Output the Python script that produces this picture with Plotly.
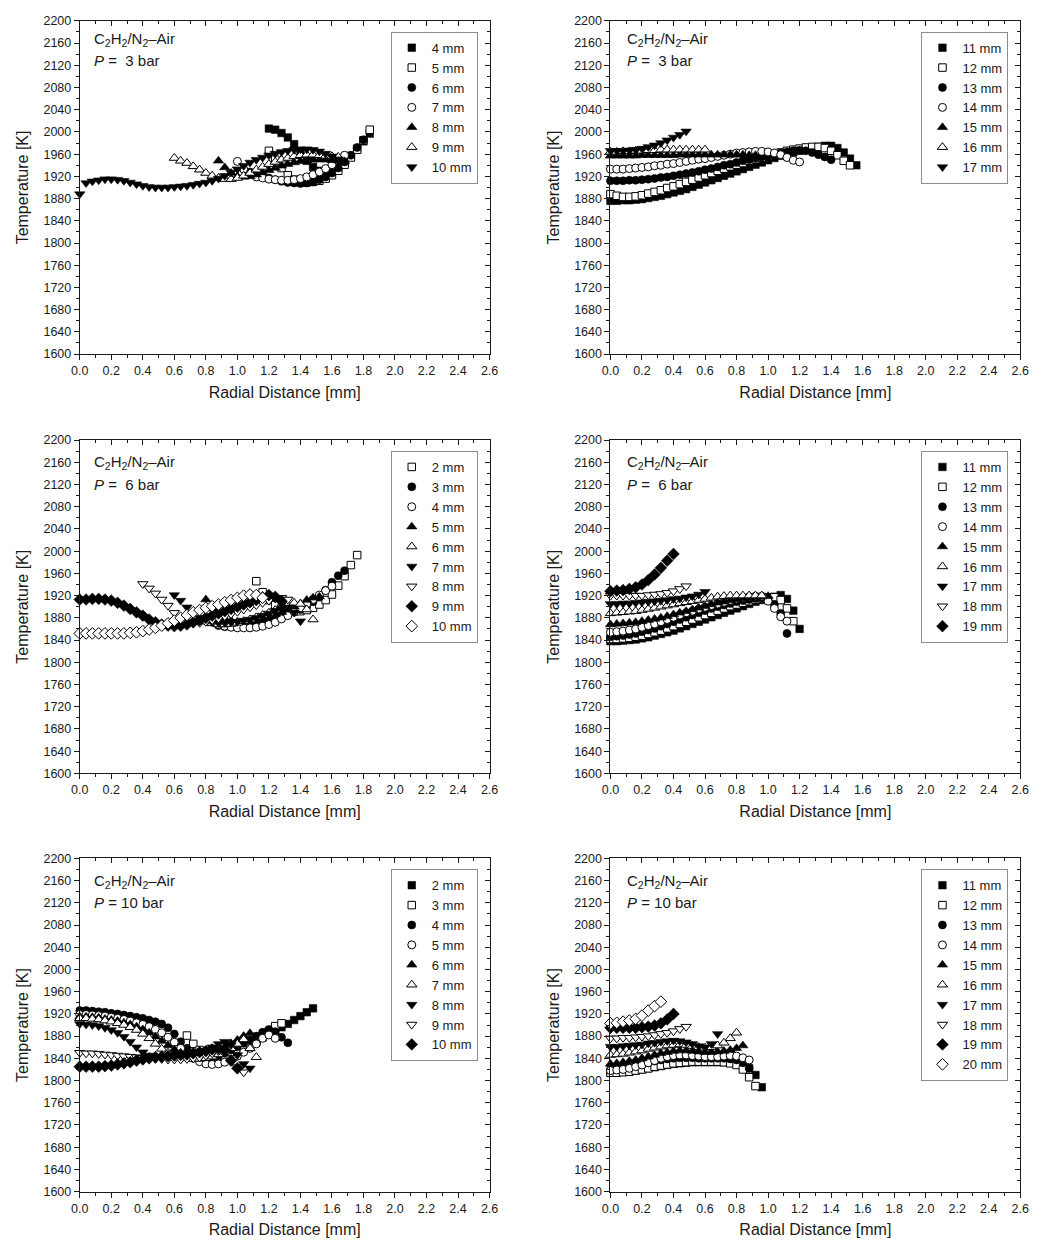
import plotly.graph_objects as go

FIG_W, FIG_H = 1044, 1254
RADIAL_STEP = 0.04  # radial traverse increment [mm]

# ---------------- P = 3 bar, heights 4-10 mm ----------------
p3a_labels = ["4 mm", "5 mm", "6 mm", "7 mm", "8 mm", "9 mm", "10 mm"]
p3a_r0 = [1.20, 1.20, 1.08, 1.00, 0.88, 0.60, 0.00]
p3a_t04 = [2006, 2004, 1998, 1990, 1978, 1962, 1948, 1937, 1930, 1927, 1928, 1934, 1944, 1957, 1970, 1983, 1997]
p3a_t05 = [1966, 1950, 1935, 1922, 1914, 1910, 1909, 1910, 1912, 1916, 1922, 1930, 1941, 1954, 1968, 1985, 2004]
p3a_t06 = [1928, 1924, 1920, 1917, 1914, 1911, 1909, 1908, 1907, 1908, 1910, 1914, 1919, 1926, 1935, 1946, 1958, 1972, 1986]
p3a_t07 = [1947, 1933, 1924, 1919, 1917, 1915, 1914, 1913, 1913, 1914, 1916, 1919, 1923, 1928, 1934, 1941, 1950, 1958]
p3a_t08 = [1948, 1936, 1926, 1920, 1919, 1920, 1923, 1927, 1931, 1935, 1939, 1942, 1945, 1947, 1949, 1950, 1950, 1950,
           1949, 1948, 1947]
p3a_t09 = [1953, 1948, 1944, 1938, 1932, 1926, 1921, 1917, 1915, 1915, 1917, 1921, 1926, 1932, 1937, 1942, 1946, 1950,
           1953, 1956, 1958, 1959, 1959, 1958, 1957, 1956, 1955]
p3a_t10 = [1888, 1908, 1911, 1913, 1915, 1915, 1914, 1912, 1909, 1906, 1903, 1901, 1900, 1900, 1900, 1901, 1902, 1903,
           1905, 1907, 1909, 1912, 1916, 1921, 1927, 1933, 1939, 1945, 1950, 1954, 1958, 1961, 1964, 1966, 1968, 1969,
           1969, 1968, 1965, 1961, 1956, 1951]

# ---------------- P = 3 bar, heights 11-17 mm ----------------
p3b_labels = ["11 mm", "12 mm", "13 mm", "14 mm", "15 mm", "16 mm", "17 mm"]
p3b_r0 = [0.0, 0.0, 0.0, 0.0, 0.0, 0.0, 0.0]
p3b_t11 = [1876, 1876, 1877, 1877, 1878, 1879, 1881, 1883, 1885, 1888, 1891, 1894, 1897, 1901, 1905, 1909, 1913, 1917,
           1921, 1925, 1929, 1933, 1937, 1941, 1945, 1949, 1953, 1957, 1960, 1963, 1966, 1969, 1971, 1973, 1975, 1975,
           1971, 1963, 1952, 1940]
p3b_t12 = [1888, 1885, 1883, 1883, 1884, 1886, 1889, 1892, 1895, 1899, 1902, 1906, 1910, 1914, 1918, 1922, 1926, 1930,
           1934, 1938, 1941, 1944, 1948, 1951, 1954, 1957, 1960, 1963, 1966, 1968, 1970, 1972, 1973, 1973, 1971, 1966,
           1958, 1948, 1940]
p3b_t13 = [1912, 1912, 1912, 1913, 1913, 1914, 1915, 1916, 1918, 1919, 1921, 1923, 1925, 1927, 1929, 1932, 1934, 1937,
           1940, 1942, 1945, 1948, 1950, 1953, 1955, 1958, 1960, 1962, 1964, 1966, 1967, 1966, 1963, 1959, 1955, 1950]
p3b_t14 = [1933, 1933, 1933, 1934, 1935, 1936, 1937, 1939, 1940, 1942, 1943, 1945, 1947, 1949, 1951, 1952, 1954, 1956,
           1958, 1960, 1962, 1963, 1964, 1965, 1965, 1964, 1962, 1959, 1954, 1949, 1946]
p3b_t15 = [1957, 1957, 1957, 1957, 1957, 1958, 1958, 1958, 1958, 1958, 1958, 1959, 1959, 1959, 1959, 1959, 1959, 1959,
           1959, 1959, 1959, 1959, 1958, 1958]
p3b_t16 = [1964, 1964, 1965, 1965, 1966, 1966, 1967, 1967, 1968, 1968, 1968, 1968, 1968, 1968, 1968, 1968]
p3b_t17 = [1966, 1966, 1966, 1967, 1968, 1970, 1973, 1976, 1980, 1985, 1990, 1995, 2001]

# ---------------- P = 6 bar, heights 2-10 mm ----------------
p6a_labels = ["2 mm", "3 mm", "4 mm", "5 mm", "6 mm", "7 mm", "8 mm", "9 mm", "10 mm"]
p6a_r0 = [1.12, 0.88, 0.88, 0.80, 0.76, 0.60, 0.40, 0.00, 0.00]
p6a_t02 = [1946, 1926, 1912, 1903, 1897, 1893, 1892, 1892, 1894, 1898, 1904, 1912, 1922, 1938, 1955, 1975, 1993]
p6a_t03 = [1866, 1864, 1864, 1864, 1865, 1866, 1868, 1871, 1874, 1878, 1882, 1886, 1890, 1895, 1901, 1909, 1918, 1930,
           1944, 1956, 1965]
p6a_t04 = [1868, 1865, 1863, 1862, 1862, 1862, 1863, 1865, 1868, 1872, 1878, 1884, 1891, 1898, 1905, 1913, 1921, 1929,
           1937]
p6a_t05 = [1913, 1897, 1886, 1879, 1875, 1873, 1873, 1874, 1876, 1879, 1882, 1886, 1890, 1895, 1900, 1906, 1912, 1916,
           1918]
p6a_t06 = [1878, 1873, 1870, 1868, 1868, 1869, 1871, 1874, 1877, 1881, 1885, 1889, 1894, 1899, 1903, 1907, 1905, 1895,
           1877]
p6a_t07 = [1921, 1911, 1899, 1888, 1880, 1875, 1872, 1871, 1871, 1872, 1873, 1875, 1877, 1880, 1884, 1888, 1893, 1897,
           1899, 1890, 1874]
p6a_t08 = [1941, 1933, 1924, 1913, 1902, 1889, 1878, 1872, 1870, 1871, 1873, 1876, 1879, 1883, 1887, 1891, 1895, 1899,
           1903, 1907, 1911, 1915, 1916, 1913]
p6a_t09 = [1913, 1913, 1914, 1914, 1913, 1911, 1907, 1902, 1896, 1890, 1884, 1877, 1872, 1868, 1866, 1865, 1866, 1868,
           1872, 1876, 1880, 1884, 1888, 1892, 1896, 1900, 1904, 1908, 1912, 1917, 1921, 1918, 1910]
p6a_t10 = [1852, 1852, 1852, 1852, 1852, 1852, 1852, 1852, 1853, 1854, 1856, 1859, 1862, 1866, 1870, 1875, 1880, 1885,
           1890, 1894, 1898, 1901, 1904, 1908, 1912, 1916, 1920, 1922, 1921, 1916]

# ---------------- P = 6 bar, heights 11-19 mm ----------------
p6b_labels = ["11 mm", "12 mm", "13 mm", "14 mm", "15 mm", "16 mm", "17 mm", "18 mm", "19 mm"]
p6b_r0 = [0.0, 0.0, 0.0, 0.0, 0.0, 0.0, 0.0, 0.0, 0.0]
p6b_t11 = [1838, 1838, 1839, 1840, 1841, 1843, 1845, 1848, 1851, 1854, 1857, 1861, 1865, 1869, 1873, 1877, 1881, 1885,
           1889, 1893, 1897, 1901, 1905, 1909, 1912, 1915, 1918, 1921, 1914, 1893, 1860]
p6b_t12 = [1842, 1842, 1843, 1844, 1846, 1848, 1851, 1854, 1857, 1861, 1865, 1869, 1873, 1877, 1881, 1885, 1889, 1893,
           1897, 1901, 1904, 1907, 1910, 1913, 1915, 1917, 1917, 1912, 1897, 1874]
p6b_t13 = [1846, 1847, 1848, 1850, 1852, 1855, 1858, 1861, 1865, 1869, 1873, 1877, 1881, 1885, 1889, 1893, 1897, 1900,
           1903, 1906, 1909, 1911, 1913, 1915, 1916, 1913, 1904, 1888, 1852]
p6b_t14 = [1854, 1855, 1856, 1858, 1860, 1863, 1866, 1869, 1873, 1877, 1881, 1885, 1889, 1892, 1896, 1899, 1902, 1905,
           1908, 1911, 1914, 1916, 1918, 1919, 1919, 1910, 1897, 1882, 1874]
p6b_t15 = [1868, 1869, 1870, 1871, 1872, 1874, 1876, 1878, 1880, 1883, 1886, 1889, 1892, 1895, 1898, 1901, 1904, 1907,
           1909, 1911, 1913, 1915, 1916, 1917, 1918, 1919]
p6b_t16 = [1888, 1889, 1890, 1891, 1892, 1894, 1896, 1898, 1900, 1902, 1904, 1906, 1908, 1910, 1912, 1914, 1916, 1918,
           1919, 1920, 1920, 1920, 1920, 1920, 1920]
p6b_t17 = [1905, 1905, 1906, 1906, 1907, 1908, 1909, 1910, 1911, 1912, 1914, 1915, 1917, 1919, 1922, 1927]
p6b_t18 = [1920, 1920, 1920, 1920, 1920, 1920, 1921, 1922, 1923, 1925, 1928, 1932, 1937]
p6b_t19 = [1928, 1929, 1930, 1932, 1935, 1940, 1948, 1958, 1970, 1983, 1995]

# ---------------- P = 10 bar, heights 2-10 mm ----------------
p10a_labels = ["2 mm", "3 mm", "4 mm", "5 mm", "6 mm", "7 mm", "8 mm", "9 mm", "10 mm"]
p10a_r0 = [0.88, 0.68, 0.0, 0.0, 0.0, 0.0, 0.0, 0.0, 0.0]
p10a_t02 = [1850, 1853, 1857, 1861, 1865, 1869, 1873, 1878, 1884, 1890, 1896, 1902, 1909, 1916, 1923, 1930]
p10a_t03 = [1881, 1866, 1855, 1847, 1843, 1842, 1844, 1848, 1853, 1858, 1863, 1869, 1878, 1889, 1898, 1903]
p10a_t04 = [1926, 1926, 1925, 1924, 1923, 1921, 1920, 1918, 1916, 1914, 1912, 1909, 1906, 1902, 1895, 1884, 1870, 1858,
            1848, 1842, 1840, 1841, 1844, 1849, 1855, 1861, 1867, 1873, 1880, 1887, 1892, 1888, 1878, 1868]
p10a_t05 = [1919, 1919, 1918, 1917, 1916, 1914, 1912, 1910, 1907, 1904, 1901, 1897, 1892, 1886, 1878, 1869, 1858, 1848,
            1840, 1834, 1830, 1829, 1830, 1833, 1838, 1844, 1851, 1858, 1866, 1876, 1882, 1876]
p10a_t06 = [1915, 1915, 1914, 1913, 1911, 1909, 1907, 1904, 1901, 1897, 1892, 1886, 1879, 1871, 1863, 1856, 1850, 1846,
            1844, 1844, 1846, 1850, 1855, 1861, 1867, 1873, 1880, 1885]
p10a_t07 = [1912, 1912, 1911, 1910, 1908, 1906, 1903, 1900, 1896, 1891, 1884, 1876, 1866, 1857, 1850, 1845, 1842, 1840,
            1839, 1839, 1840, 1843, 1847, 1852, 1858, 1866, 1874, 1858, 1842]
p10a_t08 = [1902, 1901, 1900, 1898, 1895, 1891, 1886, 1879, 1870, 1860, 1851, 1845, 1842, 1840, 1839, 1839, 1840, 1842,
            1845, 1849, 1854, 1860, 1866, 1870, 1864, 1846, 1830, 1822]
p10a_t09 = [1850, 1849, 1849, 1848, 1847, 1846, 1845, 1844, 1843, 1842, 1841, 1840, 1839, 1839, 1838, 1838, 1838, 1839,
            1840, 1842, 1845, 1849, 1853, 1852, 1840, 1824, 1815]
p10a_t10 = [1825, 1825, 1825, 1825, 1826, 1827, 1829, 1831, 1833, 1836, 1838, 1840, 1842, 1843, 1844, 1845, 1846, 1847,
            1849, 1851, 1853, 1856, 1858, 1855, 1836, 1822]

# ---------------- P = 10 bar, heights 11-20 mm ----------------
p10b_labels = ["11 mm", "12 mm", "13 mm", "14 mm", "15 mm", "16 mm", "17 mm", "18 mm", "19 mm", "20 mm"]
p10b_r0 = [0.0, 0.0, 0.0, 0.0, 0.0, 0.0, 0.0, 0.0, 0.0, 0.0]
p10b_t11 = [1815, 1815, 1816, 1817, 1818, 1820, 1822, 1824, 1826, 1828, 1830, 1831, 1832, 1833, 1833, 1833, 1833, 1833,
            1833, 1832, 1831, 1828, 1822, 1810, 1788]
p10b_t12 = [1814, 1814, 1815, 1816, 1818, 1820, 1822, 1825, 1827, 1829, 1831, 1832, 1833, 1834, 1834, 1834, 1834, 1834,
            1833, 1831, 1828, 1820, 1806, 1790]
p10b_t13 = [1820, 1821, 1822, 1824, 1826, 1829, 1832, 1835, 1837, 1839, 1840, 1841, 1841, 1841, 1840, 1840, 1840, 1840,
            1840, 1839, 1837, 1832, 1822]
p10b_t14 = [1818, 1819, 1820, 1822, 1825, 1828, 1832, 1836, 1840, 1843, 1845, 1846, 1846, 1845, 1844, 1843, 1843, 1843,
            1844, 1845, 1844, 1841, 1837]
p10b_t15 = [1830, 1831, 1833, 1835, 1837, 1840, 1843, 1846, 1849, 1851, 1853, 1854, 1854, 1853, 1852, 1851, 1851, 1852,
            1853, 1855, 1858, 1863]
p10b_t16 = [1846, 1847, 1848, 1850, 1852, 1854, 1857, 1859, 1861, 1863, 1864, 1865, 1864, 1862, 1860, 1859, 1860, 1863,
            1868, 1876, 1886]
p10b_t17 = [1861, 1861, 1862, 1863, 1864, 1865, 1867, 1868, 1870, 1871, 1872, 1871, 1869, 1866, 1862, 1860, 1866, 1884]
p10b_t18 = [1876, 1876, 1877, 1877, 1878, 1879, 1880, 1882, 1884, 1886, 1889, 1893, 1897]
p10b_t19 = [1895, 1895, 1895, 1895, 1895, 1896, 1897, 1899, 1903, 1910, 1920]
p10b_t20 = [1903, 1904, 1906, 1908, 1911, 1917, 1926, 1934, 1942]

# ---------------- axes ----------------
X_RANGE = [0, 2.6]
Y_RANGE = [1600, 2200]

FONT = "Liberation Sans, Arial, Helvetica, sans-serif"
INK = "#1a1a1a"

# marker cycle: (plotly symbol, filled?, size)
STYLES = [
    ("square", True, 7.5), ("square", False, 7.5),
    ("circle", True, 8), ("circle", False, 8),
    ("triangle-up", True, 9), ("triangle-up", False, 9),
    ("triangle-down", True, 9), ("triangle-down", False, 9),
    ("diamond", True, 9), ("diamond", False, 9),
]

# plot-area boxes in pixels: columns (left, right) and rows (top, bottom)
COLS = [(72, 489), (612, 1029)]
ROWS = [(14, 351), (438, 775), (861, 1198)]
TEXT_DY = [(19, 40), (23, 45), (23, 45)]
TEXT_DX = [12, 15]

PANELS = [
    dict(labels=p3a_labels, r0=p3a_r0, style0=0, row=0, col=0, p="<i>P</i> =  3 bar",
         temps=[p3a_t04, p3a_t05, p3a_t06, p3a_t07, p3a_t08, p3a_t09, p3a_t10]),
    dict(labels=p3b_labels, r0=p3b_r0, style0=0, row=0, col=1, p="<i>P</i> =  3 bar",
         temps=[p3b_t11, p3b_t12, p3b_t13, p3b_t14, p3b_t15, p3b_t16, p3b_t17]),
    dict(labels=p6a_labels, r0=p6a_r0, style0=1, row=1, col=0, p="<i>P</i> =  6 bar",
         temps=[p6a_t02, p6a_t03, p6a_t04, p6a_t05, p6a_t06, p6a_t07, p6a_t08, p6a_t09, p6a_t10]),
    dict(labels=p6b_labels, r0=p6b_r0, style0=0, row=1, col=1, p="<i>P</i> =  6 bar",
         temps=[p6b_t11, p6b_t12, p6b_t13, p6b_t14, p6b_t15, p6b_t16, p6b_t17, p6b_t18, p6b_t19]),
    dict(labels=p10a_labels, r0=p10a_r0, style0=0, row=2, col=0, p="<i>P</i> = 10 bar",
         temps=[p10a_t02, p10a_t03, p10a_t04, p10a_t05, p10a_t06, p10a_t07, p10a_t08, p10a_t09, p10a_t10]),
    dict(labels=p10b_labels, r0=p10b_r0, style0=0, row=2, col=1, p="<i>P</i> = 10 bar",
         temps=[p10b_t11, p10b_t12, p10b_t13, p10b_t14, p10b_t15, p10b_t16, p10b_t17, p10b_t18, p10b_t19,
                p10b_t20]),
]


def radii(r0, n):
    return [round(r0 + i * RADIAL_STEP, 3) for i in range(n)]


def px_x(px):
    return px / FIG_W


def px_y(py):
    return 1 - py / FIG_H


def tick_style(direction, dtick, minor_dtick):
    return dict(ticks=direction, ticklen=5, tickwidth=1, tickcolor=INK,
                dtick=dtick, minor=dict(dtick=minor_dtick, ticks=direction, ticklen=3,
                                        tickwidth=1, tickcolor=INK),
                showline=True, linecolor=INK, linewidth=1, showgrid=False, zeroline=False)


fig = go.Figure()
layout = dict(width=FIG_W, height=FIG_H, margin=dict(l=0, r=0, t=0, b=0),
              paper_bgcolor="white", plot_bgcolor="white", showlegend=True,
              font=dict(family=FONT, color=INK), annotations=[])

for k, pan in enumerate(PANELS):
    i = k + 1
    xs, ys = ("" if i == 1 else str(i)), ("" if i == 1 else str(i))
    xid, yid = "x" + xs, "y" + ys
    ox, oy = "x" + str(i + 6), "y" + str(i + 6)
    leg = "legend" if i == 1 else "legend" + str(i)
    cl, cr = COLS[pan["col"]]
    rt, rb = ROWS[pan["row"]]

    for j, (lab, r0, temps) in enumerate(zip(pan["labels"], pan["r0"], pan["temps"])):
        sym, filled, size = STYLES[pan["style0"] + j]
        fig.add_trace(go.Scatter(
            x=radii(r0, len(temps)), y=temps, mode="markers", name=lab,
            xaxis=xid, yaxis=yid, legend=leg, cliponaxis=False,
            marker=dict(symbol=sym, size=size,
                        color="black" if filled else "white",
                        line=dict(color="black", width=0.6 if filled else 1.0)),
        ))
    # empty trace to carry the mirrored top/right axes
    fig.add_trace(go.Scatter(x=[], y=[], xaxis=ox, yaxis=oy, showlegend=False, hoverinfo="skip"))

    xdom = [px_x(cl), px_x(cr)]
    ydom = [px_y(rb), px_y(rt)]
    layout["xaxis" + xs] = dict(
        domain=xdom, anchor=yid, range=X_RANGE, tick0=0, tickformat=".1f",
        tickfont=dict(family=FONT, size=12.5, color=INK),
        title=dict(text="Radial Distance [mm]", font=dict(family=FONT, size=16, color=INK), standoff=9),
        **tick_style("outside", 0.2, 0.1))
    layout["yaxis" + ys] = dict(
        domain=ydom, anchor=xid, range=Y_RANGE, tick0=1600,
        tickfont=dict(family=FONT, size=12.5, color=INK),
        title=dict(text="Temperature [K]", font=dict(family=FONT, size=16, color=INK), standoff=10),
        **tick_style("outside", 40, 20))
    layout["xaxis" + str(i + 6)] = dict(
        overlaying=xid, anchor=yid, side="top", range=X_RANGE, tick0=0, showticklabels=False,
        **tick_style("inside", 0.2, 0.1))
    layout["yaxis" + str(i + 6)] = dict(
        overlaying=yid, anchor=xid, side="right", range=Y_RANGE, tick0=1600, showticklabels=False,
        **tick_style("inside", 40, 20))

    layout[leg] = dict(x=px_x(cr - 12), y=px_y(rt + 11), xanchor="right", yanchor="top",
                       bgcolor="white", bordercolor="#8c8c8c", borderwidth=1,
                       font=dict(family=FONT, size=13, color=INK), tracegroupgap=0)

    dy1, dy2 = TEXT_DY[pan["row"]]
    tx = px_x(cl + TEXT_DX[pan["col"]])
    layout["annotations"] += [
        dict(text="C<sub>2</sub>H<sub>2</sub>/N<sub>2</sub>\u2013Air", x=tx, y=px_y(rt + dy1),
             xref="paper", yref="paper", xanchor="left", yanchor="middle", showarrow=False,
             font=dict(family=FONT, size=15, color=INK)),
        dict(text=pan["p"], x=tx, y=px_y(rt + dy2), xref="paper", yref="paper",
             xanchor="left", yanchor="middle", showarrow=False,
             font=dict(family=FONT, size=15, color=INK)),
    ]

fig.update_layout(**layout)
fig.write_html("out.html")
